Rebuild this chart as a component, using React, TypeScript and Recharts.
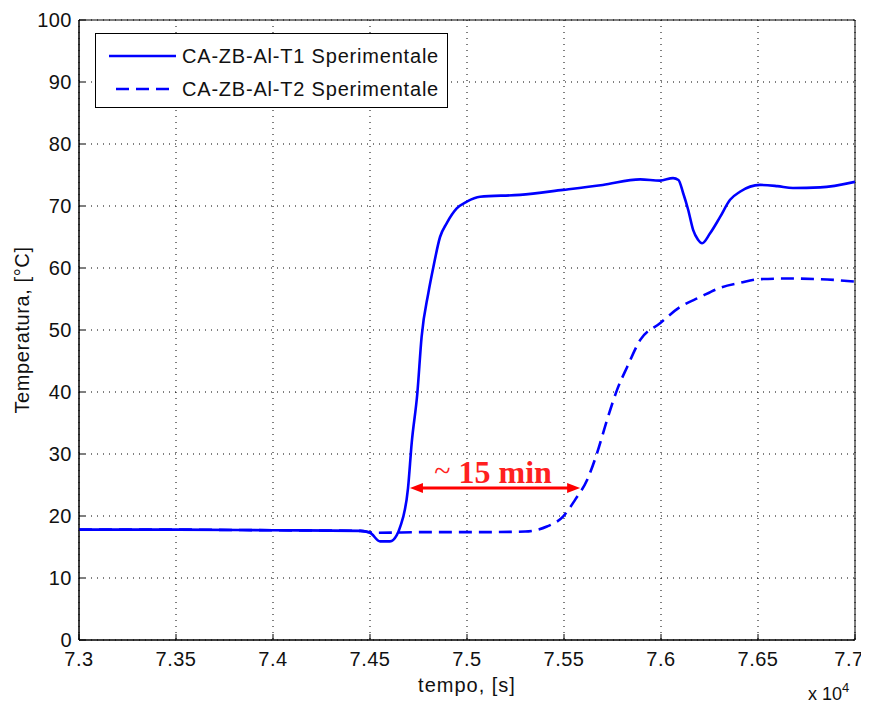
import { LineChart, Line, XAxis, YAxis, CartesianGrid, ReferenceArea, ReferenceLine } from "recharts"

const t1Time = [73000, 73500, 74000, 74450, 74500, 74552, 74603, 74638, 74655, 74696, 74715, 74744, 74766, 74801, 74827, 74861, 74895, 74947, 74999, 75067, 75273, 75495, 75700, 75893, 75995, 76062, 76090, 76114, 76140, 76166, 76190, 76212, 76253, 76304, 76356, 76407, 76510, 76600, 76680, 76820, 77000]
const t1Temp = [17.8, 17.8, 17.7, 17.6, 17.3, 15.9, 15.9, 16.9, 18.2, 24.5, 31.8, 39.8, 48.9, 56.0, 60.2, 65.0, 67.2, 69.6, 70.7, 71.5, 71.8, 72.6, 73.4, 74.3, 74.1, 74.5, 74.2, 72.1, 69.4, 66.1, 64.6, 64.0, 65.6, 68.2, 71.0, 72.3, 73.4, 73.2, 72.9, 73.0, 73.9]

const t2Time = [73000, 73500, 74000, 74450, 74520, 74800, 75100, 75300, 75412, 75495, 75557, 75619, 75670, 75722, 75773, 75825, 75893, 75995, 76098, 76201, 76304, 76407, 76510, 76650, 76820, 77000]
const t2Temp = [17.8, 17.8, 17.7, 17.6, 17.3, 17.4, 17.4, 17.5, 18.3, 19.9, 22.6, 25.8, 30.1, 35.5, 40.3, 44.0, 48.4, 51.1, 53.7, 55.3, 56.8, 57.6, 58.2, 58.3, 58.2, 57.8]

const xTicks = [73000, 73500, 74000, 74500, 75000, 75500, 76000, 76500, 77000]
const yTicks = [0, 10, 20, 30, 40, 50, 60, 70, 80, 90, 100]

const seriesNames = ["CA-ZB-Al-T1 Sperimentale", "CA-ZB-Al-T2 Sperimentale"]

// arrow showing the delay between the two sensors
const arrowFrom = 74706
const arrowTo = 75583
const arrowLevel = 24.5
const arrowText = "15 min"

const t1Data = t1Time.map((t, i) => ({ t, v: t1Temp[i] }))
const t2Data = t2Time.map((t, i) => ({ t, v: t2Temp[i] }))

const font = "'Liberation Sans', Arial, sans-serif"
const tickStyle = { fontSize: 20, fill: "#111", fontFamily: font, letterSpacing: 0.5 }

function XTick(props: any) {
  const { x, y, payload } = props
  const label = String(payload.value / 10000)
  // keep the last label inside the picture
  const cx = Math.min(x, 853)
  return (
    <text x={cx} y={y} dy="0.71em" textAnchor="middle" {...tickStyle}>
      {label}
    </text>
  )
}

function DelayArrow(props: any) {
  const { x1, y1, x2 } = props
  const y = y1
  const head = 13
  const mid = (x1 + x2) / 2
  return (
    <g>
      <line x1={x1 + head - 2} y1={y} x2={x2 - head + 2} y2={y} stroke="#ff0000" strokeWidth={3} />
      <polygon points={`${x1},${y} ${x1 + head},${y - 5} ${x1 + head},${y + 5}`} fill="#ff0000" />
      <polygon points={`${x2},${y} ${x2 - head},${y - 5} ${x2 - head},${y + 5}`} fill="#ff0000" />
      <text x={mid - 2} y={y - 5} textAnchor="middle" fill="#ff2020" fontFamily="'Liberation Serif', 'Times New Roman', serif" fontWeight="bold" fontSize={32}>
        <tspan fontWeight="normal" fontSize={30} dy={-2}>~</tspan>
        <tspan dy={2}> {arrowText}</tspan>
      </text>
    </g>
  )
}

export default function App() {
  return (
    <div style={{ position: "relative", width: 869, height: 709, margin: -8, fontFamily: font }}>
      <LineChart width={869} height={709} margin={{ top: 20, right: 14, bottom: 0, left: 8 }}>
        <CartesianGrid stroke="#000" strokeDasharray="1 5" />
        <XAxis
          dataKey="t"
          type="number"
          domain={[73000, 77000]}
          ticks={xTicks}
          allowDataOverflow
          height={69}
          tick={<XTick />}
          tickSize={-6}
          tickMargin={18}
          stroke="#000"
          label={{ value: "tempo, [s]", position: "insideTop", offset: 38, fontSize: 20, fill: "#111", letterSpacing: 1 }}
        />
        <YAxis
          type="number"
          domain={[0, 100]}
          ticks={yTicks}
          width={71}
          tick={tickStyle}
          tickSize={-6}
          tickMargin={13}
          stroke="#000"
          label={{ value: "Temperatura, [°C]", angle: -90, position: "insideLeft", offset: 14, fontSize: 20, fill: "#111", letterSpacing: 0.6, style: { textAnchor: "middle" } }}
        />
        <ReferenceArea x1={73000} x2={77000} y1={0} y2={100} fill="none" stroke="#000" strokeWidth={1} />
        <Line data={t1Data} dataKey="v" type="monotone" stroke="#0000ff" strokeWidth={2.6} dot={false} isAnimationActive={false} name={seriesNames[0]} />
        <Line data={t2Data} dataKey="v" type="monotone" stroke="#0000ff" strokeWidth={2.6} strokeDasharray="13 7" dot={false} isAnimationActive={false} name={seriesNames[1]} />
        <ReferenceLine
          segment={[{ x: arrowFrom, y: arrowLevel }, { x: arrowTo, y: arrowLevel }]}
          shape={(p: any) => <DelayArrow {...p} />}
        />
      </LineChart>

      <div style={{ position: "absolute", left: 95, top: 33, width: 351, height: 73, border: "1px solid #000", background: "#fff", fontSize: 20, letterSpacing: 0.8, color: "#111" }}>
        {seriesNames.map((name, i) => (
          <div key={name} style={{ position: "absolute", left: 0, top: i === 0 ? 10 : 43, height: 24, display: "flex", alignItems: "center", whiteSpace: "nowrap" }}>
            <svg width={86} height={24}>
              <line x1={i === 0 ? 13 : 20} y1={12} x2={80} y2={12} stroke="#0000ff" strokeWidth={2.6} strokeDasharray={i === 0 ? undefined : "13 7"} />
            </svg>
            <span>{name}</span>
          </div>
        ))}
      </div>

      <div style={{ position: "absolute", left: 808, top: 684, fontSize: 18, lineHeight: "20px", color: "#111", whiteSpace: "nowrap" }}>
        x 10<span style={{ fontSize: 13, position: "relative", top: -8 }}>4</span>
      </div>
    </div>
  )
}
